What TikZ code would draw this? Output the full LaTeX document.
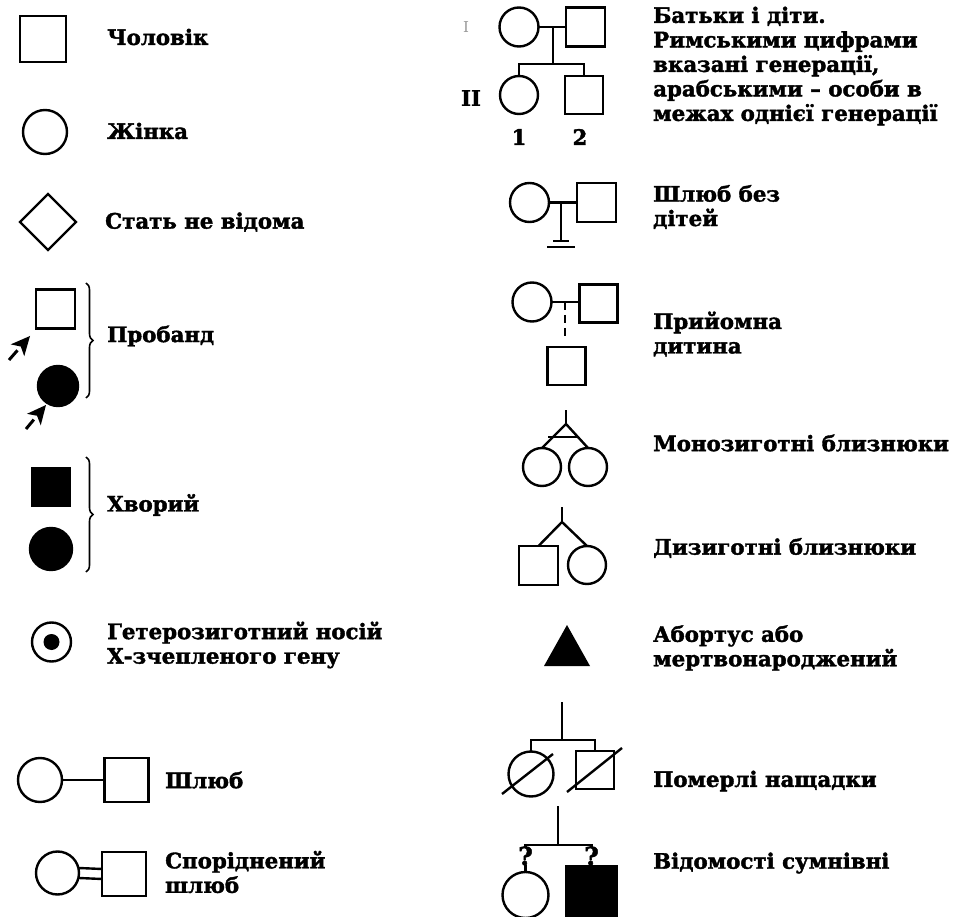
\documentclass[tikz,border=0pt]{standalone}
\usepackage{fontspec}
\setmainfont{DejaVu Serif}[BoldFeatures={FakeBold=1.8}]
\usetikzlibrary{arrows.meta,decorations.pathreplacing,shapes.geometric,calc}
\newcommand\lblfont{\bfseries\fontsize{21.3}{24.5}\selectfont}
\tikzset{
  base/.style={draw, line width=2.4pt, inner sep=0pt, outer sep=0pt},
  sq/.style={base, rectangle, minimum width=#1, minimum height=#1},
  sq/.default=39,
  ci/.style={base, circle, minimum size=#1},
  ci/.default=39,
  ln/.style={line width=2.4pt},
  lbl/.style={anchor=west, align=left, font=\lblfont, inner sep=0pt},
  filledsym/.style={fill=black},
  brc/.style={decorate, decoration={brace, amplitude=7pt}, line width=1.6pt},
  shaft/.style={line width=3pt},
  qmark/.style={font=\bfseries\fontsize{25}{25}\selectfont, inner sep=0pt, fill=white}
}
\begin{document}
\begin{tikzpicture}[x=1pt,y=-1pt]
\useasboundingbox (0,0) rectangle (959,917);

% ---------- left column ----------
\node[sq=46] (male) at (43,39) {};
\node[lbl] (tmale) at (107,37) {Чоловік};

\node[ci=44] (female) at (45,132) {};
\node[lbl] (tfemale) at (107,131) {Жінка};

\node[base, diamond, minimum width=56, minimum height=56, shape aspect=1] (unk) at (48,222) {};
\node[lbl] (tunk) at (105,222) {Стать не відома};

\node[sq=39] (pm) at (55.5,309) {};
\node[ci=40, filledsym] (pf) at (58,386) {};
\coordinate (a1s) at (9,360);
\coordinate (a1e) at (30,336);
\coordinate (a2s) at (26,429);
\coordinate (a2e) at (46,405);
% arrowheads
\coordinate (h1) at ($(a1e)!19pt!(a1s)$);
\coordinate (h2) at ($(a2e)!19pt!(a2s)$);
\draw[shaft] (a1s) -- (h1);
\draw[shaft] (a2s) -- (h2);
\fill (a1e) -- ($(h1)!9pt!90:(a1s)$) -- ($(a1e)!14pt!(a1s)$) -- ($(h1)!9pt!-90:(a1s)$) -- cycle;
\fill (a2e) -- ($(h2)!9pt!90:(a2s)$) -- ($(a2e)!14pt!(a2s)$) -- ($(h2)!9pt!-90:(a2s)$) -- cycle;
\coordinate (b1t) at (86,283);
\coordinate (b1b) at (86,398);
\draw[brc] (b1t) -- (b1b);
\node[lbl] (tprob) at (107,336) {Пробанд};

\node[sq=38, filledsym] (am) at (51,487) {};
\node[ci=42, filledsym] (af) at (51,549) {};
\coordinate (b2t) at (86,457);
\coordinate (b2b) at (86,572);
\draw[brc] (b2t) -- (b2b);
\node[lbl] (taff) at (107,505) {Хворий};

\node[ci=39] (car) at (51.5,642) {};
\node[circle, fill=black, minimum size=16, inner sep=0pt] (cdot) at (car) {};
\node[lbl] (tcar) at (107,645) {Гетерозиготний носій\\Х-зчепленого гену};

\node[ci=44] (mf) at (40,780) {};
\node[sq=44] (mm) at (126.5,780) {};
\draw[ln] (mf.east) -- (mm.west);
\node[lbl] (tmar) at (165,780) {Шлюб};

\node[ci=43] (cf) at (57.5,873) {};
\node[sq=44] (cm) at (124,874) {};
\draw[ln] ([yshift=-5]cf.east) -- ([yshift=-5]cm.west);
\draw[ln] ([yshift=5]cf.east) -- ([yshift=5]cm.west);
\node[lbl] (tcons) at (165,872) {Споріднений\\шлюб};

% ---------- right column ----------
% parents and children
\node[font=\fontsize{15}{15}\selectfont, text=black!40, inner sep=0pt] (gI) at (466,27) {I};
\node[ci=39] (p1f) at (519,27) {};
\node[sq=39] (p1m) at (585.5,27) {};
\draw[ln] (p1f.east) -- (p1m.west);
\coordinate (p1c) at (553,27);
\coordinate (p1s) at (553,64);
\coordinate (p1l) at (519,64);
\coordinate (p1r) at (584,64);
\node[ci=38] (c1) at (519,95) {};
\node[sq=38] (c2) at (584,95) {};
\draw[ln] (p1c) -- (p1s);
\draw[ln] (c1.north) -- (p1l) -- (p1r) -- (c2.north);
\node[font=\lblfont, inner sep=0pt] (gII) at (471,98) {II};
\node[font=\lblfont, inner sep=0pt] (n1) at (519,137) {1};
\node[font=\lblfont, inner sep=0pt] (n2) at (580,137) {2};
\node[lbl] (tfam) at (653,66) {Батьки і діти.\\Римськими цифрами\\вказані генерації,\\арабськими – особи в\\межах однієї генерації};

% childless
\node[ci=39] (nf) at (529.5,202.5) {};
\node[sq=39] (nm) at (596.5,202.5) {};
\draw[ln] (nf.east) -- (nm.west);
\coordinate (nc) at (561,202.5);
\coordinate (nb) at (561,241);
\coordinate (nb1l) at (553,241);
\coordinate (nb1r) at (569,241);
\coordinate (nb2l) at (547,247);
\coordinate (nb2r) at (575,247);
\draw[ln] (nc) -- (nb);
\draw[ln] (nb1l) -- (nb1r);
\draw[ln] (nb2l) -- (nb2r);
\node[lbl] (tnc) at (653,207) {Шлюб без\\дітей};

% adopted
\node[ci=39] (adf) at (532,302) {};
\node[sq=38] (adm) at (598.5,303.5) {};
\draw[ln] (adf.east) -- (adm.west |- adf.east);
\coordinate (adc) at (565,302);
\coordinate (adb) at (565,337);
\draw[ln, dash pattern=on 8pt off 5pt] (adc) -- (adb);
\node[sq=38] (adch) at (566.5,366) {};
\node[lbl] (tad) at (653,334) {Прийомна\\дитина};

% monozygotic twins
\coordinate (mzt) at (566,410);
\coordinate (mza) at (566,424);
\node[ci=38] (mz1) at (542,467) {};
\node[ci=38] (mz2) at (588,467) {};
\coordinate (mzbl) at (548,437);
\coordinate (mzbr) at (578,437);
\draw[ln] (mzt) -- (mza);
\draw[ln] (mz1.north) -- (mza) -- (mz2.north);
\draw[ln] (mzbl) -- (mzbr);
\node[lbl] (tmz) at (653,443) {Монозиготні близнюки};

% dizygotic twins
\coordinate (dzt) at (562,507);
\coordinate (dza) at (562,522);
\node[sq=39] (dz1) at (538.5,565.5) {};
\node[ci=38] (dz2) at (587,565) {};
\draw[ln] (dzt) -- (dza);
\draw[ln] (dz1.north) -- (dza) -- (dz2.north);
\node[lbl] (tdz) at (653,548) {Дизиготні близнюки};

% abortion
\coordinate (tra) at (567,625);
\coordinate (trl) at (544,666);
\coordinate (trr) at (590,666);
\fill (tra) -- (trr) -- (trl) -- cycle;
\node[lbl] (tab) at (653,648) {Абортус або\\мертвонароджений};

% deceased
\coordinate (dct) at (562,702);
\coordinate (dcm) at (562,740);
\node[ci=45] (dc1) at (531,774) {};
\node[sq=38] (dc2) at (595,770) {};
\draw[ln] (dct) -- (dcm);
\draw[ln] (dc1.north) |- (dcm) -| (dc2.north);
\coordinate (s1a) at (502,794);
\coordinate (s1b) at (553,754);
\coordinate (s2a) at (567,792);
\coordinate (s2b) at (622,748);
\draw[ln] (s1a) -- (s1b);
\draw[ln] (s2a) -- (s2b);
\node[lbl] (tdc) at (653,781) {Померлі нащадки};

% doubtful
\coordinate (qt) at (558,806);
\coordinate (qm) at (558,845);
\node[ci=46] (q1) at (525.5,895) {};
\node[sq=51, filledsym] (q2) at (591.5,892) {};
\draw[ln] (qt) -- (qm);
\draw[ln] (q1.north) |- (qm) -| (q2.north);
\node[qmark] (qm1) at (525.5,856) {?};
\node[qmark] (qm2) at (591.5,856) {?};
\node[lbl] (tq) at (653,863) {Відомості сумнівні};
\end{tikzpicture}
\end{document}
